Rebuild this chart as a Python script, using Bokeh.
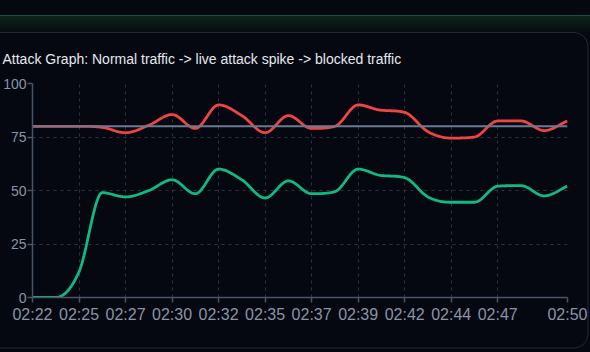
import numpy as np
from urllib.parse import quote
from bokeh.plotting import figure
from bokeh.models import Range1d, FixedTicker, Span
from bokeh.embed import file_html
from bokeh.resources import INLINE

# ---------------- data ----------------
times = ["02:22", "02:23", "02:25", "02:26", "02:27", "02:28", "02:30", "02:31",
         "02:32", "02:33", "02:35", "02:36", "02:37", "02:38", "02:39", "02:41",
         "02:42", "02:43", "02:44", "02:46", "02:47", "02:48", "02:49", "02:50"]
shown_ticks = [0, 2, 4, 6, 8, 10, 12, 14, 16, 18, 20, 23]
attack_score = [80, 80, 80, 79.5, 77, 80.5, 85.5, 79, 90, 85, 77, 85,
                79, 80, 90, 87.5, 86.5, 77.5, 74.5, 75, 82.5, 82.5, 78, 82.5]
traffic = [0, 0, 12, 49, 47, 50, 55, 48.5, 60, 55, 46.5, 54.5,
           48.5, 49.5, 60, 57, 56, 47, 44.5, 44.5, 52, 52.3, 47.5, 52]
threshold = 80
y_ticks = [0, 25, 50, 75, 100]
title = "Attack Graph: Normal traffic -> live attack spike -> blocked traffic"

# ---------------- style ----------------
BG = "#050810"
GRID = "#2a3242"
AXIS = "#4a5568"
TXT = "#8a94a6"
FONT = "Liberation Sans"


def monotone(xs, ys, n=24):
    xs = np.asarray(xs, float)
    ys = np.asarray(ys, float)
    k = len(xs)
    d = np.diff(ys) / np.diff(xs)
    m = np.zeros(k)
    m[0] = d[0]
    m[-1] = d[-1]
    for i in range(1, k - 1):
        if np.sign(d[i - 1]) != np.sign(d[i]):
            m[i] = 0.0
        else:
            m[i] = (d[i - 1] + d[i]) / 2
    for i in range(k - 1):
        if abs(d[i]) < 1e-9:
            m[i] = m[i + 1] = 0.0
            continue
        a = m[i] / d[i]
        b = m[i + 1] / d[i]
        s = a * a + b * b
        if s > 9:
            t = 3 / np.sqrt(s)
            m[i] = t * a * d[i]
            m[i + 1] = t * b * d[i]
    ox, oy = [], []
    for i in range(k - 1):
        h = xs[i + 1] - xs[i]
        t = np.linspace(0, 1, n, endpoint=False)
        h00 = 2 * t**3 - 3 * t**2 + 1
        h10 = t**3 - 2 * t**2 + t
        h01 = -2 * t**3 + 3 * t**2
        h11 = t**3 - t**2
        ox.extend(xs[i] + t * h)
        oy.extend(h00 * ys[i] + h10 * h * m[i] + h01 * ys[i + 1] + h11 * h * m[i + 1])
    ox.append(xs[-1])
    oy.append(ys[-1])
    return ox, oy


# page decoration (top strip + card) as a CSS background
deco = (
    "<svg xmlns='http://www.w3.org/2000/svg' width='590' height='352'>"
    "<defs><linearGradient id='g' x1='0' y1='0' x2='0' y2='1'>"
    "<stop offset='0' stop-color='#0d2519'/><stop offset='1' stop-color='#060c10'/>"
    "</linearGradient></defs>"
    "<rect width='590' height='352' fill='#050810'/>"
    "<rect x='0' y='16' width='590' height='16' fill='url(#g)'/>"
    "<rect x='0' y='15' width='590' height='1' fill='#1b5446'/>"
    "<rect x='-20' y='32.5' width='608' height='315.5' rx='14' fill='#050810' "
    "stroke='#1f2839' stroke-width='1'/>"
    "</svg>"
)
css_bg = 'url("data:image/svg+xml;charset=utf-8,' + quote(deco) + '")'

idx = list(range(len(times)))

p = figure(width=590, height=352, output_backend="svg", toolbar_location=None,
           x_range=Range1d(0, len(times) - 1), y_range=Range1d(0, 100),
           min_border_left=28, min_border_right=23, min_border_top=83, min_border_bottom=55,
           background_fill_color=BG, border_fill_color=None, outline_line_color=None,
           styles={"background-image": css_bg, "background-repeat": "no-repeat"})

p.title.text = title
p.title.text_font = FONT
p.title.text_font_size = "14px"
p.title.text_font_style = "normal"
p.title.text_color = "#e6e9ef"
p.title.align = "left"
p.title.offset = -30
p.title.standoff = 34

# axes
p.xaxis.ticker = FixedTicker(ticks=shown_ticks)
p.xaxis.major_label_overrides = {i: times[i] for i in shown_ticks}
p.yaxis.ticker = FixedTicker(ticks=y_ticks)
for ax in (p.xaxis, p.yaxis):
    ax.axis_line_color = AXIS
    ax.axis_line_width = 1.5
    ax.major_tick_line_color = AXIS
    ax.major_tick_line_width = 1.5
    ax.major_tick_out = 5
    ax.major_tick_in = 0
    ax.minor_tick_line_color = None
    ax.major_label_text_color = TXT
    ax.major_label_text_font = FONT
p.xaxis.major_label_text_font_size = "16px"
p.xaxis.major_label_standoff = 3
p.yaxis.major_label_text_font_size = "14px"
p.yaxis.major_label_standoff = 1

p.xgrid.ticker = FixedTicker(ticks=shown_ticks)
for g in (p.xgrid, p.ygrid):
    g.grid_line_color = GRID
    g.grid_line_dash = "3 4"
    g.grid_line_width = 1

p.add_layout(Span(location=threshold, dimension="width", line_color="#6b7a93",
                  line_width=2, level="glyph"))

rx, ry = monotone(idx, attack_score)
p.line(rx, ry, line_color="#ef4444", line_width=2.8)
gx, gy = monotone(idx, traffic)
p.line(gx, gy, line_color="#10b981", line_width=2.8)

open("out.html", "w").write(file_html(p, INLINE))
